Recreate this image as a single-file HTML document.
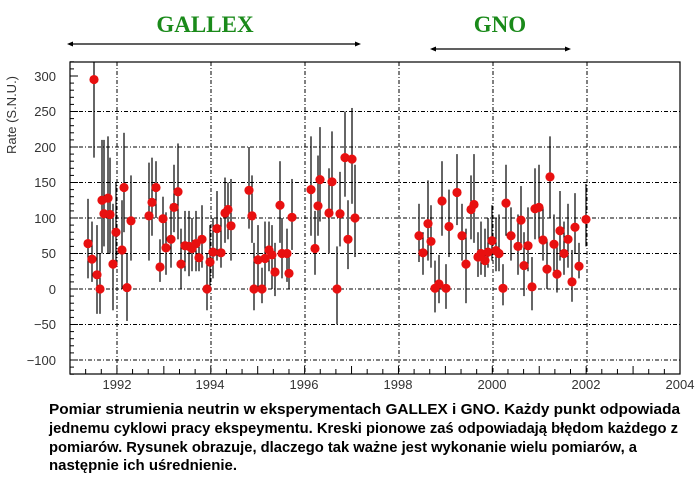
<!DOCTYPE html>
<html><head><meta charset="utf-8"><style>
html,body{margin:0;padding:0;background:#fff;width:700px;height:480px;overflow:hidden}
svg{display:block}
.t{font-family:"Liberation Sans",sans-serif;font-size:13px;fill:#333}
.c{font-family:"Liberation Sans",sans-serif;font-size:15px;font-weight:bold;fill:#000}
.h{font-family:"Liberation Serif",serif;font-size:23px;font-weight:bold;fill:#1a8a1a}
</style></head><body>
<svg id="s" width="700" height="480" xmlns="http://www.w3.org/2000/svg">
<text class="h" x="205" y="32" text-anchor="middle">GALLEX</text>
<text class="h" x="500" y="32" text-anchor="middle">GNO</text>
<g stroke="#000" stroke-width="1.3" fill="#000">
<line x1="69" y1="44" x2="359" y2="44"/>
<path d="M67 44 l6 -2.5 v5z M361 44 l-6 -2.5 v5z" stroke="none"/>
<line x1="432" y1="49" x2="569" y2="49"/>
<path d="M430 49 l6 -2.5 v5z M571 49 l-6 -2.5 v5z" stroke="none"/>
</g>
<g id="grid" stroke="#000" stroke-width="1" stroke-dasharray="4,2,1,2"></g>
<rect x="70" y="62" width="610" height="312" fill="none" stroke="#000" stroke-width="1.2"/>
<g id="ticks" stroke="#000" stroke-width="1"></g>
<g id="data"></g>
<g class="t" text-anchor="end">
<text x="56" y="81">300</text><text x="56" y="116">250</text><text x="56" y="152">200</text>
<text x="56" y="187">150</text><text x="56" y="223">100</text><text x="56" y="258">50</text>
<text x="56" y="294">0</text><text x="56" y="329">−50</text><text x="56" y="365">−100</text>
</g>
<g class="t" text-anchor="middle">
<text x="117" y="389">1992</text><text x="210" y="389">1994</text><text x="304" y="389">1996</text>
<text x="398" y="389">1998</text><text x="492" y="389">2000</text><text x="586" y="389">2002</text>
<text x="680" y="389">2004</text>
</g>
<text class="t" transform="translate(16,115) rotate(-90)" text-anchor="middle">Rate (S.N.U.)</text>
<text class="c" x="49" y="414" textLength="631" lengthAdjust="spacingAndGlyphs">Pomiar strumienia neutrin w eksperymentach GALLEX i GNO. Każdy punkt odpowiada</text>
<text class="c" x="49" y="433" textLength="629" lengthAdjust="spacingAndGlyphs">jednemu cyklowi pracy ekspeymentu. Kreski pionowe zaś odpowiadają błędom każdego z</text>
<text class="c" x="49" y="452" textLength="588" lengthAdjust="spacingAndGlyphs">pomiarów.  Rysunek obrazuje, dlaczego tak ważne jest wykonanie wielu pomiarów, a</text>
<text class="c" x="49" y="470" textLength="188" lengthAdjust="spacingAndGlyphs">następnie ich uśrednienie.</text>
</svg>
<script>
var NS="http://www.w3.org/2000/svg";
function Y(v){return 289-v*0.71;}
function el(p,t,a){var e=document.createElementNS(NS,t);for(var k in a)e.setAttribute(k,a[k]);p.appendChild(e);return e;}
var g=document.getElementById("grid"),tk=document.getElementById("ticks"),d=document.getElementById("data");
[1992,1994,1996,1998,2000,2002].forEach(function(y){var x=117+(y-1992)*47;el(g,"line",{x1:x,y1:62,x2:x,y2:374});});
[-100,-50,0,50,100,150,200,250].forEach(function(v){el(g,"line",{x1:70,y1:Y(v),x2:680,y2:Y(v)});});
for(var v=-120;v<=320;v+=10){var L=(v%50==0)?8:4;el(tk,"line",{x1:70,y1:Y(v),x2:70+L,y2:Y(v)});}
for(var i=0;i<=39;i++){var x=70+i*610/39;var L=(i%3==0)?8:5;el(tk,"line",{x1:x,y1:374,x2:x,y2:374-L});}
var P=[[88,64,15,127],[92,42,10,95],[94,295,185,320],[97,20,-35,90],[100,0,-35,50],[102,125,50,210],[104,106,60,210],[108,128,50,215],[110,105,50,185],[113,35,-30,120],[116,80,40,150],[122,55,0,125],[124,143,80,220],[127,2,-45,50],[131,96,40,160],[149,103,40,178],[152,122,75,185],[156,143,100,180],[160,31,10,70],[163,99,60,130],[166,58,20,108],[171,70,30,120],[174,115,80,175],[178,137,70,205],[181,35,0,85],[185,61,25,110],[189,60,18,110],[192,57,25,100],[196,64,25,110],[199,44,25,75],[202,70,30,118],[207,0,-30,50],[210,38,0,90],[213,52,15,100],[217,85,40,138],[221,51,30,100],[225,107,65,157],[228,112,70,150],[231,89,40,155],[249,139,85,200],[252,103,65,160],[254,0,-30,65],[258,41,0,90],[262,0,-20,30],[265,43,0,95],[269,55,25,95],[272,48,0,90],[275,24,-10,65],[280,118,65,180],[282,50,15,100],[287,50,10,85],[289,22,0,55],[292,101,55,155],[311,140,75,215],[315,57,20,110],[318,117,75,188],[320,154,95,228],[329,107,50,170],[332,151,110,222],[337,0,-50,60],[340,106,60,165],[345,185,130,250],[348,70,28,125],[352,183,120,255],[355,100,45,175],
[419,75,38,120],[423,51,20,80],[428,92,40,153],[431,67,30,118],[435,1,-33,40],[439,7,-20,48],[442,124,75,180],[446,1,-28,35],[449,88,45,140],[457,136,90,190],[462,75,40,120],[466,35,-20,85],[471,112,70,160],[474,119,65,190],[478,45,17,80],[481,50,20,95],[485,40,17,85],[488,52,30,100],[492,68,40,118],[496,54,25,100],[499,50,25,105],[503,1,-23,35],[506,121,75,175],[511,75,40,115],[518,60,20,105],[521,97,55,145],[524,33,-10,80],[528,61,25,115],[532,3,-30,45],[535,113,70,170],[539,115,70,175],[543,69,40,115],[547,28,0,70],[550,158,100,215],[554,63,25,105],[557,21,-5,60],[560,82,40,138],[564,50,20,95],[568,70,30,120],[572,10,-18,55],[575,87,50,135],[579,32,15,65],[586,98,60,148]];
P.forEach(function(p){el(d,"line",{x1:p[0],y1:Math.max(62,Y(p[3])),x2:p[0],y2:Y(p[2]),stroke:"#000","stroke-width":1.2});});
P.forEach(function(p){el(d,"circle",{cx:p[0],cy:Y(p[1]),r:4.6,fill:"#e81010"});});
</script>
</body></html>
